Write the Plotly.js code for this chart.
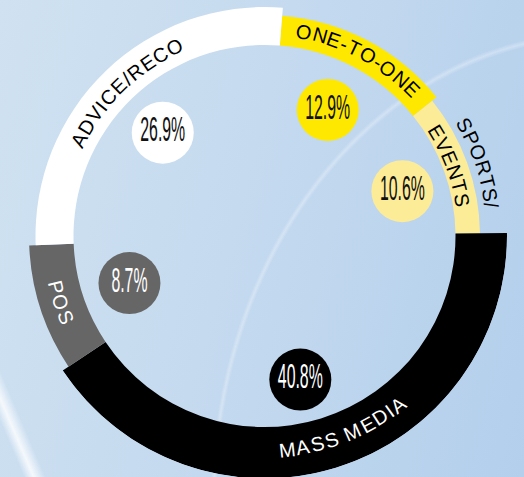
<!DOCTYPE html>
<html><head><meta charset="utf-8">
<script src="https://cdn.plot.ly/plotly-3.0.1.min.js"></script>
<style>
html,body{margin:0;padding:0;width:524px;height:477px;overflow:hidden;}
body{
  background:
    linear-gradient(66.9deg, rgba(255,255,255,0) 22px, rgba(255,255,255,0.8) 31px, rgba(255,255,255,0) 42px),
    radial-gradient(ellipse 390px 470px at 600px 500px, rgba(255,255,255,0) 98.2%, rgba(255,255,255,0.3) 99%, rgba(255,255,255,0) 99.8%),
    linear-gradient(105deg, #d0e2f1 0%, #c5daef 45%, #b3cfec 100%);
}
#chart{position:absolute;left:0;top:-14px;width:524px;height:500px;}
</style></head><body><div id="chart"></div>
<script>
// ---- data ----
const categories = ['ONE-TO-ONE', 'SPORTS/EVENTS', 'MASS MEDIA', 'POS', 'ADVICE/RECO'];
const values = [12.9, 10.6, 40.8, 8.7, 26.9];
const valueLabels = ['12.9%', '10.6%', '40.8%', '8.7%', '26.9%'];
const labelLines = [['ONE-TO-ONE'], ['SPORTS/', 'EVENTS'], ['MASS MEDIA'], ['POS'], ['ADVICE/RECO']];

// ---- styles ----
const colors = ['#ffe800', '#fdec97', '#000000', '#666666', '#ffffff'];
const valueTextColors = ['#111111', '#111111', '#ffffff', '#ffffff', '#111111'];
const labelColors = [['#000'], ['#000', '#000'], ['#fff'], ['#fff'], ['#000']];
const outerR = [221, 215.5, 242.5, 235.5, 229];
const innerR = 191;
const labelR = [[208], [229, 201], [215], [215], [209]];
const labelShift = [[0], [1, -1], [-4.8], [0], [0]];
const bottomText = [false, false, true, true, false];
const startAngle = 4.6;
const bubbleR = [141, 145, 148, 143, 145];
const bubbleShift = [-1.2, 1.8, 3.2, -1.2, -0.7];
const labelFontSize = 20, letterSpacing = 1.2;
const labelFamily = '"Liberation Sans", Arial, sans-serif';

const W = 524, H = 500, cx = 264.5, cy = 250, Rmax = 242.5;

const total = values.reduce((a, b) => a + b, 0);
const spans = values.map(v => v / total * 360);
const mids = [];
let acc = startAngle;
spans.forEach(s => { mids.push(acc + s / 2); acc += s; });

const ring = {
  type: 'barpolar',
  theta: mids, width: spans,
  base: categories.map(() => innerR),
  r: outerR.map(o => o - innerR),
  marker: {color: colors, line: {width: 0}},
  hoverinfo: 'skip'
};
const bubbles = {
  type: 'scatterpolar', mode: 'markers+text',
  theta: mids.map((m, i) => m + bubbleShift[i]), r: bubbleR,
  text: valueLabels, textposition: 'middle center',
  textfont: {family: '"Liberation Sans Narrow", "Liberation Sans", Arial', size: 35, color: valueTextColors},
  marker: {size: 62, color: colors, line: {width: 0}},
  hoverinfo: 'skip', cliponaxis: false
};

// curved labels, one annotation per character
const cvs = document.createElement('canvas').getContext('2d');
cvs.font = labelFontSize + 'px ' + labelFamily;
const annotations = [];
labelLines.forEach((lines, i) => {
  lines.forEach((line, j) => {
    const r = labelR[i][j];
    const centerDeg = mids[i] + labelShift[i][j];
    const chars = line.split('');
    const ws = chars.map(c => cvs.measureText(c).width);
    const L = ws.reduce((a, b) => a + b, 0) + letterSpacing * (chars.length - 1);
    const dir = bottomText[i] ? -1 : 1;
    let s = -L / 2;
    chars.forEach((c, k) => {
      const sc = s + ws[k] / 2;
      s += ws[k] + letterSpacing;
      if (c === ' ') return;
      const phi = centerDeg + dir * sc / r * 180 / Math.PI;
      const pr = phi * Math.PI / 180;
      const X = cx + r * Math.sin(pr), Y = cy - r * Math.cos(pr);
      annotations.push({
        xref: 'paper', yref: 'paper', x: X / W, y: 1 - Y / H,
        xanchor: 'center', yanchor: 'middle', showarrow: false,
        text: c, textangle: bottomText[i] ? phi - 180 : phi,
        font: {family: labelFamily, size: labelFontSize, color: labelColors[i][j]}
      });
    });
  });
});

const layout = {
  width: W, height: H, margin: {l: 0, r: 0, t: 0, b: 0, pad: 0},
  paper_bgcolor: 'rgba(0,0,0,0)', plot_bgcolor: 'rgba(0,0,0,0)',
  showlegend: false,
  polar: {
    domain: {x: [(cx - Rmax) / W, (cx + Rmax) / W], y: [(H - cy - Rmax) / H, (H - cy + Rmax) / H]},
    bgcolor: 'rgba(0,0,0,0)', hole: 0,
    radialaxis: {range: [0, Rmax], visible: false, showgrid: false},
    angularaxis: {rotation: 90, direction: 'clockwise', visible: false, showgrid: false}
  },
  annotations: annotations
};

Plotly.newPlot('chart', [ring, bubbles], layout, {staticPlot: true}).then(() => {
  const texts = document.querySelectorAll('.scatterlayer .textpoint text');
  let scale = 0.5;
  texts.forEach(t => { if (t.textContent === '26.9%') scale = 45 / t.getBBox().width; });
  texts.forEach(t => {
    const b = t.getBBox();
    const bx = b.x + b.width / 2;
    t.setAttribute('transform', `translate(${bx},0) scale(${scale},1) translate(${-bx},0)`);
  });
});
</script></body></html>
